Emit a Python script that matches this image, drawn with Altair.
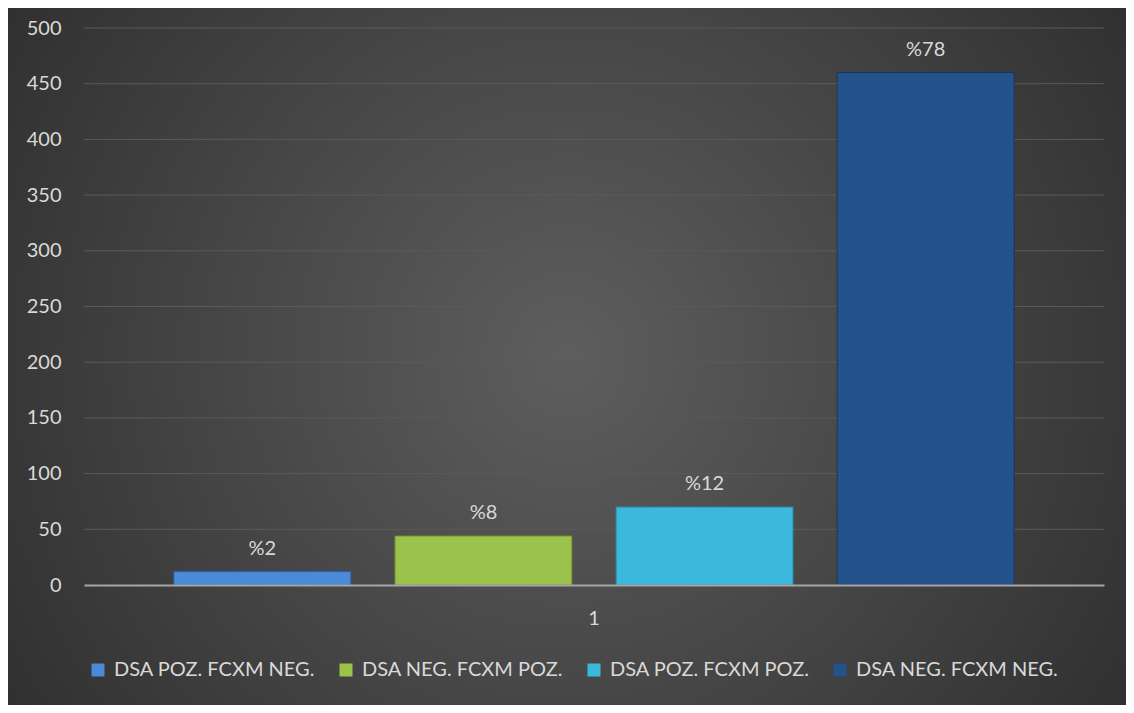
import altair as alt
import pandas as pd

# ---- data ----
series = ["DSA POZ. FCXM NEG.", "DSA NEG. FCXM POZ.", "DSA POZ. FCXM POZ.", "DSA NEG. FCXM NEG."]
values = [12, 44, 70, 460]
labels = ["%2", "%8", "%12", "%78"]
categories = ["1"]
y_ticks = [0, 50, 100, 150, 200, 250, 300, 350, 400, 450, 500]

# ---- style ----
colors = ["#4a8ad9", "#9bc34b", "#3cb8dc", "#24538c"]
strokes = ["#2f64a8", "#6f8f2e", "#2a8aa8", "#163660"]
FONT = "Lato"
TXT = "#d9d9d9"
FS = 20
W, H = 1020, 557
PAD = {"left": 76, "top": 20, "right": 22, "bottom": 120}

df = pd.DataFrame({
    "cat": [categories[0]] * len(series),
    "series": series,
    "value": values,
    "label": labels,
})
grid_df = pd.DataFrame({"tick": y_ticks[1:]})
bg_df = pd.DataFrame({"k": [0]})

yscale = alt.Scale(domain=[0, 500], nice=False)
yaxis = alt.Axis(values=y_ticks, grid=False, domain=False, ticks=False,
                 labelPadding=23, labelFontSize=FS, labelFont=FONT,
                 labelColor=TXT, title=None, zindex=1)

bg = alt.Chart(bg_df).mark_rect(
    fill={"gradient": "radial", "x1": 0.5, "y1": 0.5, "r1": 0,
          "x2": 0.5, "y2": 0.5, "r2": 0.75,
          "stops": [{"offset": 0, "color": "#5e5e5e"},
                    {"offset": 1, "color": "#242424"}]},
).encode(
    x=alt.value(-PAD["left"]), x2=alt.value(W + PAD["right"]),
    y=alt.value(-PAD["top"]), y2=alt.value(H + PAD["bottom"]),
)

grid = alt.Chart(grid_df).mark_rule(color="#5a5a5a", strokeWidth=1).encode(
    y=alt.Y("tick:Q", scale=yscale, axis=yaxis),
)

xenc = alt.X("cat:N", scale=alt.Scale(paddingInner=0, paddingOuter=0.107),
             axis=alt.Axis(title=None, labelAngle=0, ticks=False,
                           domainColor="#a6a6a6", domainWidth=2,
                           labelPadding=23, labelFontSize=FS, labelFont=FONT,
                           labelColor=TXT, zindex=1))
xoff = alt.XOffset("series:N", sort=series,
                   scale=alt.Scale(paddingInner=0.2, paddingOuter=0))

bars = alt.Chart(df).mark_bar(strokeWidth=1).encode(
    x=xenc,
    xOffset=xoff,
    y=alt.Y("value:Q", scale=yscale, axis=yaxis),
    color=alt.Color("series:N", sort=series,
                    scale=alt.Scale(domain=series, range=colors),
                    legend=alt.Legend(orient="none", legendX=4, legendY=632,
                                      direction="horizontal", title=None,
                                      symbolType="square", symbolSize=169,
                                      symbolStrokeWidth=0, labelLimit=0,
                                      labelFontSize=FS, labelFont=FONT,
                                      labelColor=TXT, columnPadding=20,
                                      labelOffset=6, padding=0)),
    stroke=alt.Stroke("series:N", scale=alt.Scale(domain=series, range=strokes),
                      legend=None),
)

text = alt.Chart(df).mark_text(dy=-17, baseline="alphabetic", fontSize=FS,
                               font=FONT, color=TXT).encode(
    x=xenc,
    xOffset=xoff,
    y=alt.Y("value:Q", scale=yscale, axis=yaxis),
    text="label:N",
)

chart = alt.layer(bg, grid, bars, text).properties(
    width=W, height=H, padding=PAD,
    autosize=alt.AutoSizeParams(type="none"),
    background="#2b2b2b",
).configure_view(stroke=None)

chart.save("out.html", embed_options={"renderer": "svg", "actions": False})
